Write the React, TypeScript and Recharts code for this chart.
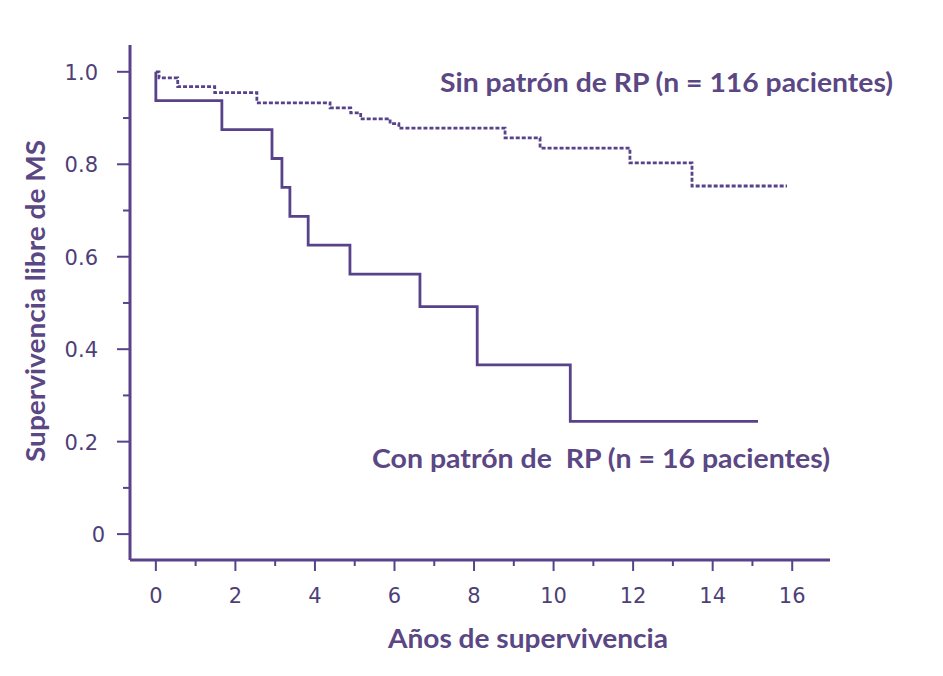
import { LineChart, Line, XAxis, YAxis } from 'recharts';

// Kaplan-Meier steps (time in years, survival fraction)
const conTimes = [0, 0, 1.66, 2.92, 3.17, 3.37, 3.83, 4.88, 6.64, 8.08, 10.42, 15.14];
const conSurv = [1.0, 0.9375, 0.875, 0.8125, 0.75, 0.6875, 0.625, 0.5625, 0.492, 0.366, 0.244, 0.244];

const sinTimes = [0, 0.08, 0.55, 1.48, 2.54, 4.38, 4.9, 5.15, 5.89, 6.11, 8.78, 9.66, 11.92, 13.48, 15.87];
const sinSurv = [1.0, 0.987, 0.968, 0.955, 0.933, 0.922, 0.911, 0.898, 0.888, 0.878, 0.857, 0.835, 0.803, 0.753, 0.753];

const xTicks = [0, 1, 2, 3, 4, 5, 6, 7, 8, 9, 10, 11, 12, 13, 14, 15, 16];
const yTicks = [0, 0.1, 0.2, 0.3, 0.4, 0.5, 0.6, 0.7, 0.8, 0.9, 1.0];
const yLabels = ['0', '', '0.2', '', '0.4', '', '0.6', '', '0.8', '', '1.0'];

const conData = conTimes.map((t, i) => ({ t, s: conSurv[i] }));
const sinData = sinTimes.map((t, i) => ({ t, s: sinSurv[i] }));

const purple = '#58438a';
const textPurple = '#5a4784';
const tickPurple = '#4e3f78';
const tickFont = '"DejaVu Sans", sans-serif';
const titleFont = 'Lato, "Open Sans", sans-serif';

function XTick({ x, y, payload }: any) {
  const v = payload.value;
  const major = v % 2 === 0;
  return (
    <g>
      <line x1={x} y1={y} x2={x} y2={y + (major ? 11 : 6)} stroke={purple} strokeWidth={2} />
      {major && (
        <text x={x} y={y + 43} textAnchor="middle" fontSize={21} fill={tickPurple} fontFamily={tickFont}>
          {v}
        </text>
      )}
    </g>
  );
}

function YTick({ x, y, index }: any) {
  const label = yLabels[index];
  const major = index % 2 === 0;
  return (
    <g>
      <line x1={x - (major ? 13 : 7)} y1={y} x2={x} y2={y} stroke={purple} strokeWidth={2} />
      {label && (
        <text x={label === '0' ? 105 : 98} y={y + 8} textAnchor="end" fontSize={21} fill={tickPurple} fontFamily={tickFont}>
          {label}
        </text>
      )}
    </g>
  );
}

export default function App() {
  return (
    <div style={{ position: 'absolute', left: 0, top: 0, width: 943, height: 676, background: '#fff' }}>
      <LineChart width={943} height={676} margin={{ top: 45, right: 113, bottom: 0, left: 0 }}>
        <XAxis
          dataKey="t"
          type="number"
          domain={[-0.65, 16.95]}
          ticks={xTicks}
          allowDataOverflow
          height={116}
          tickSize={0}
          tickMargin={0}
          tickLine={false}
          axisLine={{ stroke: purple, strokeWidth: 3 }}
          tick={<XTick />}
          interval={0}
        />
        <YAxis
          type="number"
          domain={[-0.056, 1.058]}
          ticks={yTicks}
          allowDataOverflow
          width={130}
          tickSize={0}
          tickMargin={0}
          tickLine={false}
          axisLine={{ stroke: purple, strokeWidth: 3 }}
          tick={<YTick />}
          interval={0}
        />
        <Line
          data={sinData}
          dataKey="s"
          type="stepAfter"
          stroke={purple}
          strokeWidth={2.8}
          strokeDasharray="4 2"
          dot={false}
          isAnimationActive={false}
        />
        <Line
          data={conData}
          dataKey="s"
          type="stepAfter"
          stroke={purple}
          strokeWidth={2.8}
          dot={false}
          isAnimationActive={false}
        />
      </LineChart>
      <svg width={943} height={676} style={{ position: 'absolute', left: 0, top: 0, pointerEvents: 'none' }}>
        <g fontFamily={titleFont} fontWeight={700} fill={textPurple} fontSize={27}>
          <text x={440} y={92} textLength={453} lengthAdjust="spacingAndGlyphs">
            Sin patrón de RP (n = 116 pacientes)
          </text>
          <text x={372} y={468} textLength={458} lengthAdjust="spacingAndGlyphs" style={{ whiteSpace: 'pre' }}>
            Con patrón de  RP (n = 16 pacientes)
          </text>
          <text x={388} y={648} textLength={280} lengthAdjust="spacingAndGlyphs">
            Años de supervivencia
          </text>
          <text
            x={45}
            y={301}
            textAnchor="middle"
            transform="rotate(-90 45 301)"
            textLength={322}
            lengthAdjust="spacingAndGlyphs"
          >
            Supervivencia libre de MS
          </text>
        </g>
      </svg>
    </div>
  );
}
